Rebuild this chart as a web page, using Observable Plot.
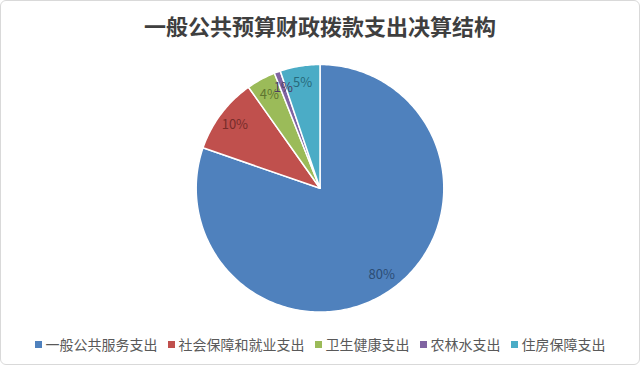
<!DOCTYPE html>
<html>
<head>
<meta charset="utf-8">
<script src="https://cdn.jsdelivr.net/npm/d3@7"></script>
<script src="https://cdn.jsdelivr.net/npm/@observablehq/plot@0.6"></script>
<style>
  html, body { margin: 0; padding: 0; background: #fff; }
  #frame { position: relative; width: 638px; height: 363px; border: 1px solid #d9d9d9; border-radius: 6px; overflow: hidden; background: #fff; font-family: "Noto Sans CJK SC", sans-serif; }
  #title { position: absolute; top: 8px; left: 0; width: 638px; text-align: center; font-size: 22px; font-weight: 700; color: #3f3f3f; line-height: 32px; }
  #chart { position: absolute; top: 51px; left: -1px; }
  #legend { position: absolute; top: 333px; left: 0; width: 638px; display: flex; justify-content: center; gap: 10px; font-size: 14px; color: #595959; line-height: 20px; }
  .item { display: flex; align-items: center; }
  .sw { width: 7px; height: 7px; margin-right: 4px; }
</style>
</head>
<body>
<div id="frame">
  <div id="title">一般公共预算财政拨款支出决算结构</div>
  <div id="chart"></div>
  <div id="legend"></div>
</div>
<script>
const categories = ["一般公共服务支出", "社会保障和就业支出", "卫生健康支出", "农林水支出", "住房保障支出"];
const shares = [80.3, 9.9, 3.8, 0.8, 5.2];
const labels = ["80%", "10%", "4%", "1%", "5%"];
const colors = ["#4f81bd", "#c0504d", "#9bbb59", "#8064a2", "#4bacc6"];
const labelColors = ["#2c4d75", "#772c2a", "#5f7530", "#4d3b62", "#276a7c"];

const arcs = d3.pie().sort(null).startAngle(0).endAngle(2 * Math.PI)(shares);
const wedgePoints = [];
const labelData = [];
arcs.forEach((a, i) => {
  const cat = categories[i];
  wedgePoints.push({cat, x: 0, y: 0});
  const n = Math.max(2, Math.ceil((a.endAngle - a.startAngle) / (Math.PI / 180)));
  for (let k = 0; k <= n; k++) {
    const t = a.startAngle + (a.endAngle - a.startAngle) * k / n;
    wedgePoints.push({cat, x: Math.sin(t), y: Math.cos(t)});
  }
  wedgePoints.push({cat, x: 0, y: 0});
  const m = (a.startAngle + a.endAngle) / 2;
  labelData.push({cat, text: labels[i], color: labelColors[i], x: 0.86 * Math.sin(m), y: 0.86 * Math.cos(m)});
});

const R = 124, W = 640, H = 272, cx = 320;
const chart = Plot.plot({
  width: W,
  height: H,
  marginLeft: cx - R,
  marginRight: W - cx - R,
  marginTop: H / 2 - R,
  marginBottom: H / 2 - R,
  x: {domain: [-1, 1], axis: null},
  y: {domain: [-1, 1], axis: null},
  color: {domain: categories, range: colors},
  style: {fontFamily: "Noto Sans CJK SC, sans-serif", background: "transparent"},
  marks: [
    ...categories.map((c, i) => Plot.line(wedgePoints.filter(d => d.cat === c), {
      x: "x", y: "y", fill: colors[i], stroke: "white", strokeWidth: 1.5, strokeLinejoin: "round"
    })),
    Plot.text(labelData, {x: "x", y: "y", text: "text", fill: d => d.color, fontSize: 13})
  ]
});
document.getElementById("chart").appendChild(chart);

const legend = document.getElementById("legend");
categories.forEach((c, i) => {
  const item = document.createElement("div");
  item.className = "item";
  const sw = document.createElement("span");
  sw.className = "sw";
  sw.style.background = colors[i];
  item.appendChild(sw);
  item.appendChild(document.createTextNode(c));
  legend.appendChild(item);
});
</script>
</body>
</html>
